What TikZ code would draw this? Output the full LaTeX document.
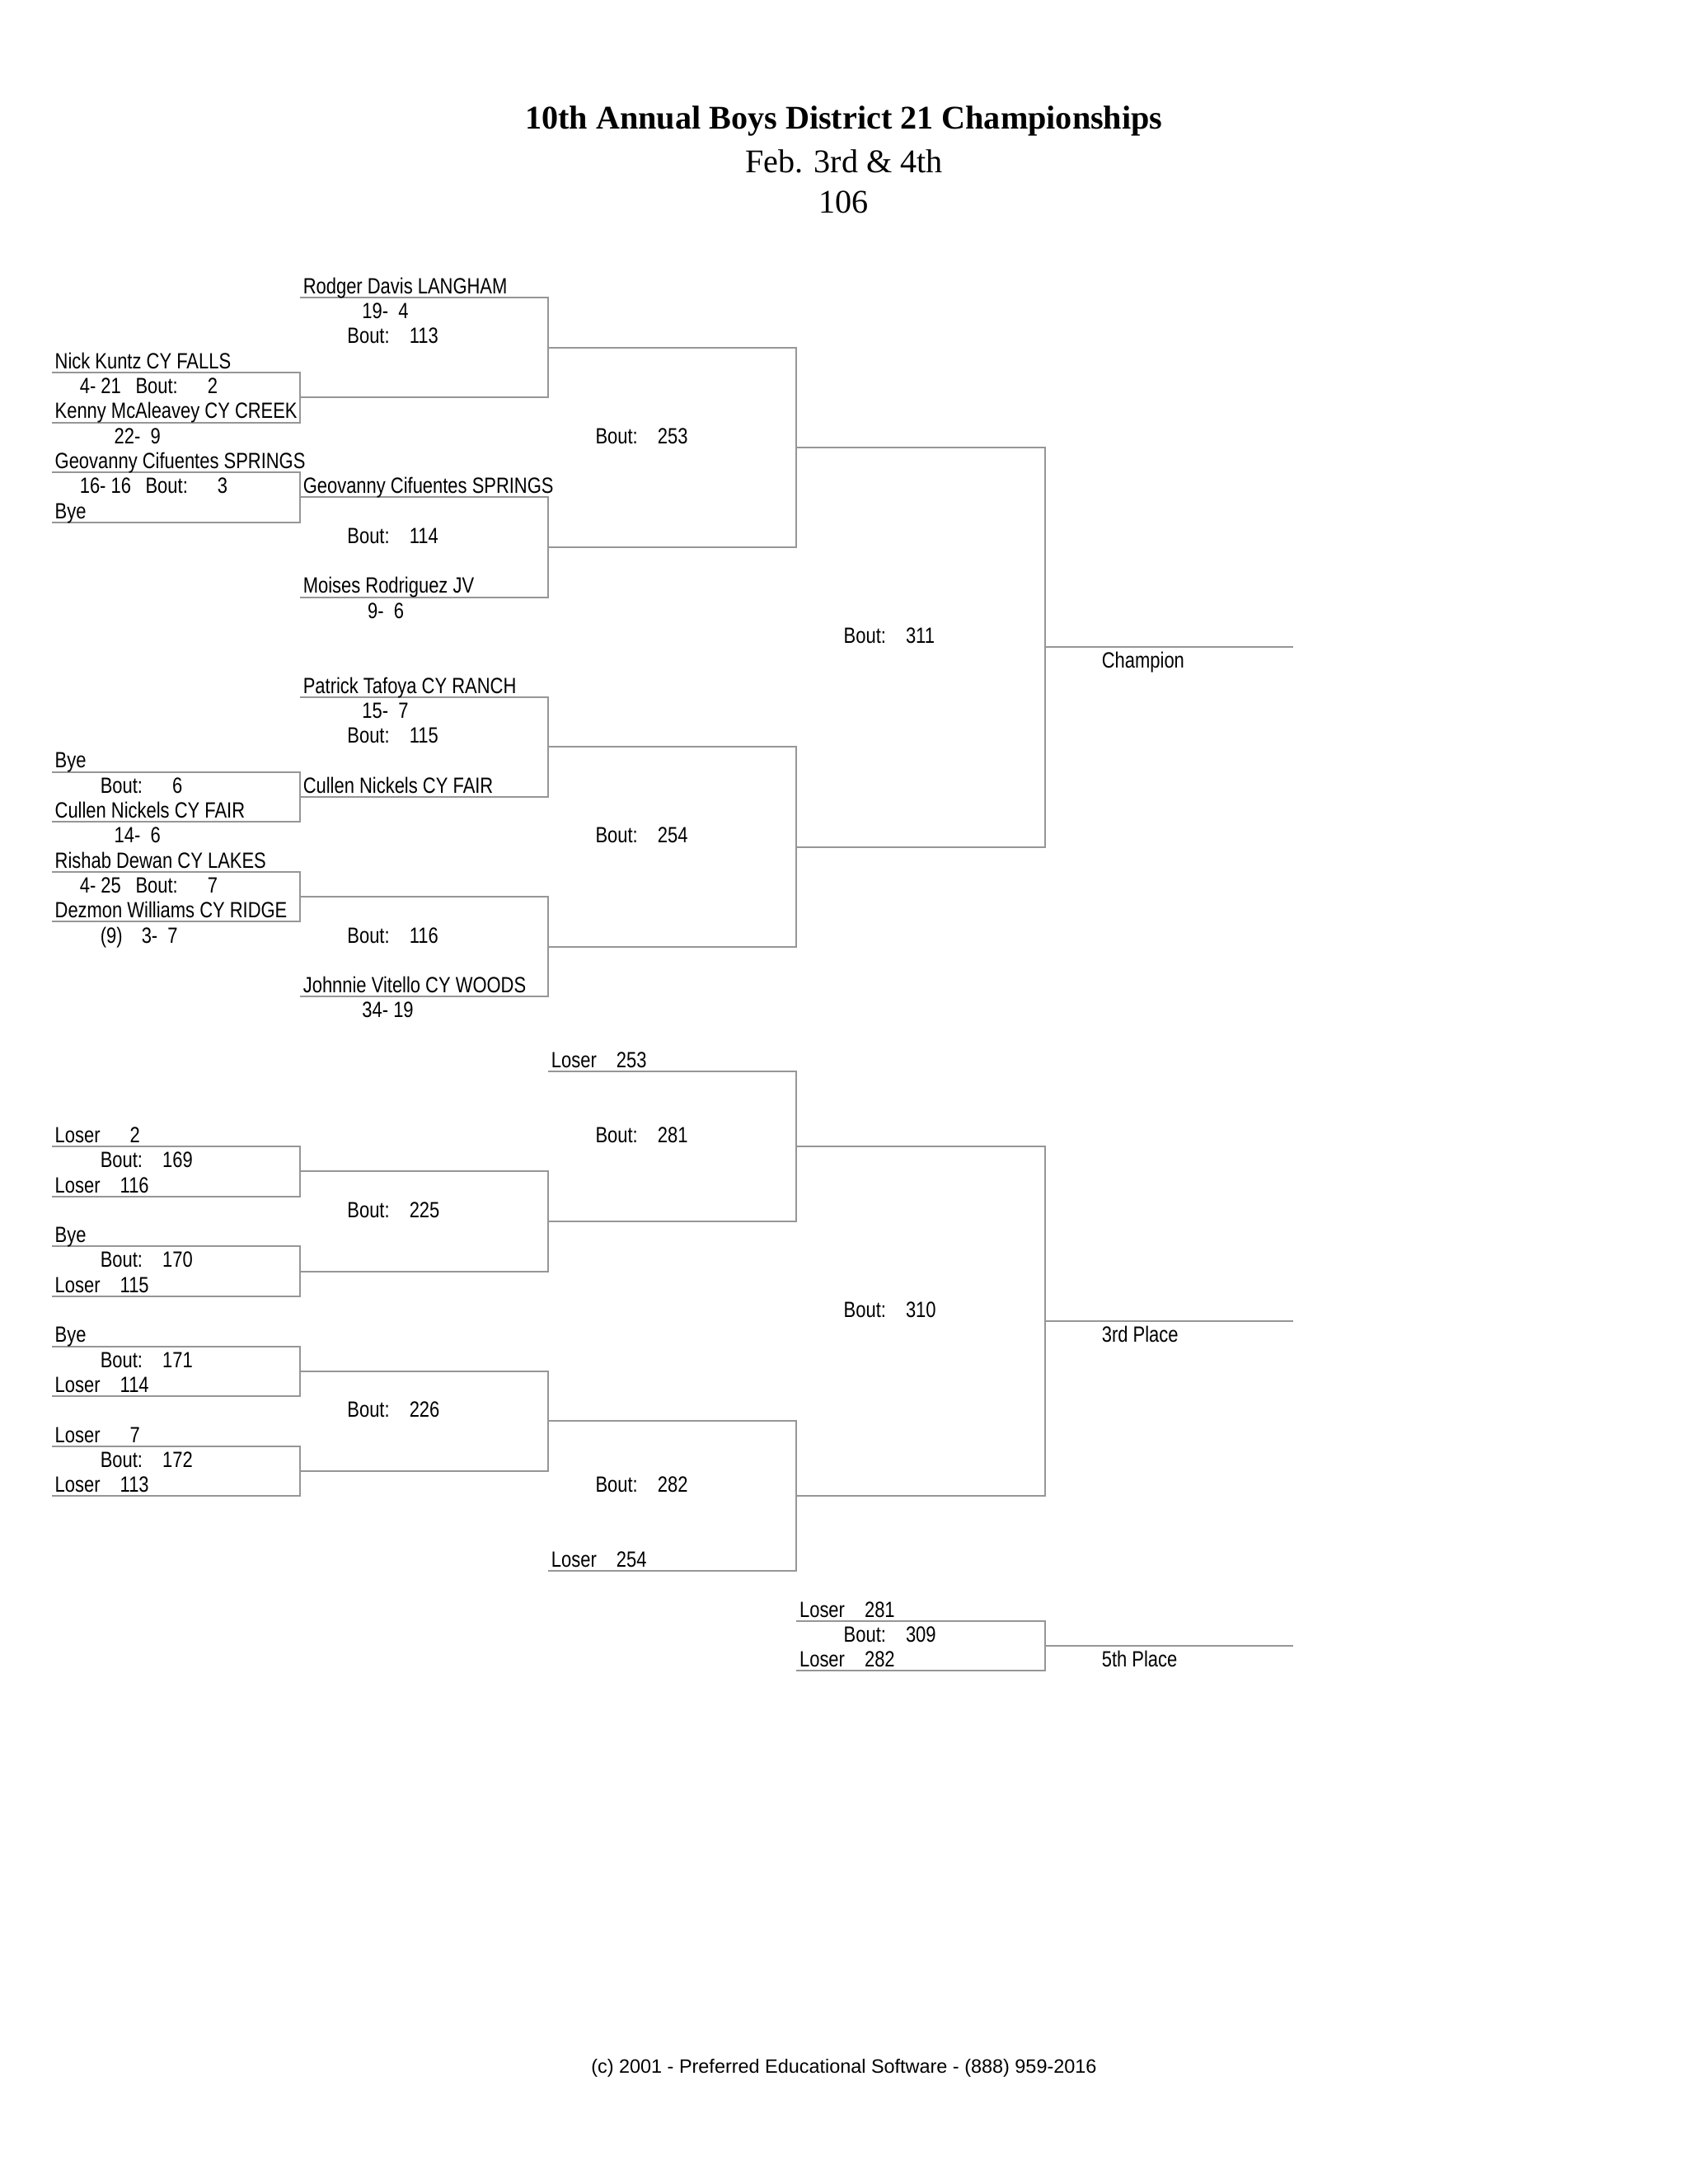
\documentclass[tikz,border=0pt]{standalone}
\usepackage{fontspec}
\setmainfont{Liberation Sans}[FakeStretch=0.82]
\newfontfamily\headfont{Liberation Serif}
\newfontfamily\footfont{Liberation Sans}
\usepackage{xcolor}
\definecolor{brgray}{RGB}{150,150,150}
\usetikzlibrary{positioning}
\newcommand{\boutno}[2][7.2pt]{Bout:\hspace{#1}#2}
\newcommand{\loserno}[2][7.2pt]{Loser\hspace{#1}#2}

\begin{document}
\begin{tikzpicture}[x=90pt, y=-9.055pt,
  bline/.style={draw=brgray, line width=0.6pt},
  lbl/.style={anchor=base west, inner sep=0pt, font=\fontsize{8}{9}\selectfont},
  head/.style={anchor=base, inner sep=0pt, font=\headfont\fontsize{12}{14}\selectfont},
  headb/.style={head, font=\headfont\bfseries\fontsize{12}{14}\selectfont}
]
\useasboundingbox[fill=white] (-18.83pt,107.9pt) rectangle (593.17pt,-684.1pt);

% Heading
\node[headb] (ttl)  at (3.191,-6.75) {10th Annual Boys District 21 Championships};
\node[head]  (date) at (3.191,-4.99) {Feb. 3rd \& 4th};
\node[head]  (wt)   at (3.191,-3.39) {106};

% Championship bracket
\draw[bline] (0,3) -| (1,5) -- (0,5);
\draw[bline] (0,7) -| (1,9) -- (0,9);
\draw[bline] (0,19) -| (1,21) -- (0,21);
\draw[bline] (0,23) -| (1,25) -- (0,25);
\draw[bline] (1,0) -| (2,4) -- (1,4);
\draw[bline] (1,8) -| (2,12) -- (1,12);
\draw[bline] (1,16) -| (2,20) -- (1,20);
\draw[bline] (1,24) -| (2,28) -- (1,28);
\draw[bline] (2,2) -| (3,10) -- (2,10);
\draw[bline] (2,18) -| (3,26) -- (2,26);
\draw[bline] (3,6) -| (4,22) -- (3,22);
\draw[bline] (4,14) -- (5,14);

% First round
\node[lbl] (kuntz) at (0.01,2.845)  {Nick Kuntz CY FALLS};
\node[lbl] (r2a)   at (0.11,3.845)  {4- 21};
\node[lbl] (b2)    at (0.335,3.845) {\boutno[10.8pt]{2}};
\node[lbl] (mcal)  at (0.01,4.845)  {Kenny McAleavey CY CREEK};
\node[lbl] (r2b)   at (0.249,5.845) {22-\ \ 9};
\node[lbl] (cif)   at (0.01,6.845)  {Geovanny Cifuentes SPRINGS};
\node[lbl] (r3)    at (0.11,7.845)  {16- 16};
\node[lbl] (b3)    at (0.375,7.845) {\boutno[10.8pt]{3}};
\node[lbl] (bye3)  at (0.01,8.845)  {Bye};
\node[lbl] (bye6)  at (0.01,18.845) {Bye};
\node[lbl] (b6)    at (0.193,19.845) {\boutno[10.8pt]{6}};
\node[lbl] (nick)  at (0.01,20.845) {Cullen Nickels CY FAIR};
\node[lbl] (r6)    at (0.249,21.845) {14-\ \ 6};
\node[lbl] (dewan) at (0.01,22.845) {Rishab Dewan CY LAKES};
\node[lbl] (r7a)   at (0.11,23.845) {4- 25};
\node[lbl] (b7)    at (0.335,23.845) {\boutno[10.8pt]{7}};
\node[lbl] (will)  at (0.01,24.845) {Dezmon Williams CY RIDGE};
\node[lbl] (seed)  at (0.193,25.845) {(9)};
\node[lbl] (r7b)   at (0.359,25.845) {3-\ \ 7};

% Quarter finals
\node[lbl] (lang)  at (1.01,-0.155)  {Rodger Davis LANGHAM};
\node[lbl] (r113)  at (1.248,0.845)  {19-\ \ 4};
\node[lbl] (b113)  at (1.188,1.845)  {\boutno{113}};
\node[lbl] (cif2)  at (1.01,7.845)   {Geovanny Cifuentes SPRINGS};
\node[lbl] (b114)  at (1.188,9.845)  {\boutno{114}};
\node[lbl] (rodr)  at (1.01,11.845)  {Moises Rodriguez JV};
\node[lbl] (r114)  at (1.27,12.845)  {9-\ \ 6};
\node[lbl] (taf)   at (1.01,15.845)  {Patrick Tafoya CY RANCH};
\node[lbl] (r115)  at (1.248,16.845) {15-\ \ 7};
\node[lbl] (b115)  at (1.188,17.845) {\boutno{115}};
\node[lbl] (nick2) at (1.01,19.845)  {Cullen Nickels CY FAIR};
\node[lbl] (b116)  at (1.188,25.845) {\boutno{116}};
\node[lbl] (vit)   at (1.01,27.845)  {Johnnie Vitello CY WOODS};
\node[lbl] (r116)  at (1.248,28.845) {34- 19};

% Semis and final
\node[lbl] (b253)  at (2.188,5.845)  {\boutno{253}};
\node[lbl] (b254)  at (2.188,21.845) {\boutno{254}};
\node[lbl] (b311)  at (3.188,13.845) {\boutno{311}};
\node[lbl] (champ) at (4.228,14.845) {Champion};

% Consolation bracket
\draw[bline] (0,34) -| (1,36) -- (0,36);
\draw[bline] (0,38) -| (1,40) -- (0,40);
\draw[bline] (0,42) -| (1,44) -- (0,44);
\draw[bline] (0,46) -| (1,48) -- (0,48);
\draw[bline] (1,35) -| (2,39) -- (1,39);
\draw[bline] (1,43) -| (2,47) -- (1,47);
\draw[bline] (2,31) -| (3,37) -- (2,37);
\draw[bline] (2,45) -| (3,51) -- (2,51);
\draw[bline] (3,34) -| (4,48) -- (3,48);
\draw[bline] (4,41) -- (5,41);
\draw[bline] (3,53) -| (4,55) -- (3,55);
\draw[bline] (4,54) -- (5,54);

\node[lbl] (l2)    at (0.01,33.845)  {\loserno[10.8pt]{2}};
\node[lbl] (b169)  at (0.193,34.845) {\boutno{169}};
\node[lbl] (l116)  at (0.01,35.845)  {\loserno{116}};
\node[lbl] (bye10) at (0.01,37.845)  {Bye};
\node[lbl] (b170)  at (0.193,38.845) {\boutno{170}};
\node[lbl] (l115)  at (0.01,39.845)  {\loserno{115}};
\node[lbl] (bye11) at (0.01,41.845)  {Bye};
\node[lbl] (b171)  at (0.193,42.845) {\boutno{171}};
\node[lbl] (l114)  at (0.01,43.845)  {\loserno{114}};
\node[lbl] (l7)    at (0.01,45.845)  {\loserno[10.8pt]{7}};
\node[lbl] (b172)  at (0.193,46.845) {\boutno{172}};
\node[lbl] (l113)  at (0.01,47.845)  {\loserno{113}};
\node[lbl] (b225)  at (1.188,36.845) {\boutno{225}};
\node[lbl] (b226)  at (1.188,44.845) {\boutno{226}};
\node[lbl] (l253)  at (2.01,30.845)  {\loserno{253}};
\node[lbl] (b281)  at (2.188,33.845) {\boutno{281}};
\node[lbl] (b282)  at (2.188,47.845) {\boutno{282}};
\node[lbl] (l254)  at (2.01,50.845)  {\loserno{254}};
\node[lbl] (b310)  at (3.188,40.845) {\boutno{310}};
\node[lbl] (third) at (4.228,41.845) {3rd Place};
\node[lbl] (l281)  at (3.01,52.845)  {\loserno{281}};
\node[lbl] (b309)  at (3.188,53.845) {\boutno{309}};
\node[lbl] (l282)  at (3.01,54.845)  {\loserno{282}};
\node[lbl] (fifth) at (4.228,54.845) {5th Place};

% Footer
\node[anchor=base, inner sep=0pt, font=\footfont\fontsize{7}{8}\selectfont] (foot) at (3.191,71.1)
  {(c) 2001 - Preferred Educational Software - (888) 959-2016};
\end{tikzpicture}
\end{document}
